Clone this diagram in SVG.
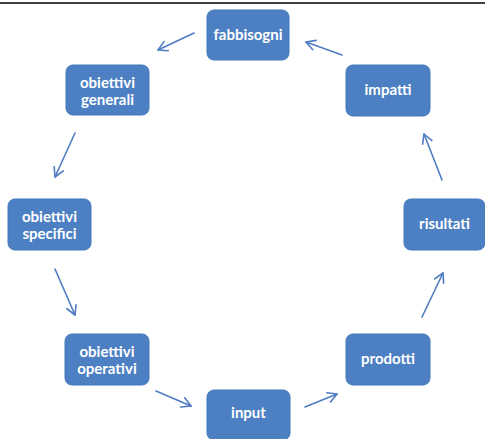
<svg xmlns="http://www.w3.org/2000/svg" width="485" height="439" viewBox="0 0 485 439">
  <defs>
    <marker id="ah" markerWidth="12" markerHeight="12" refX="10" refY="6" orient="auto" markerUnits="userSpaceOnUse">
      <path d="M1,1 L10,6 L1,11" fill="none" stroke="#4f7cc4" stroke-width="1.6" stroke-linecap="round" stroke-linejoin="round"/>
    </marker>
  </defs>
  <style>
    .box { fill: #4c80c3; stroke: #4377bb; stroke-width: 1; }
    .lbl { fill: #ffffff; font-family: Lato, "Open Sans", "Liberation Sans", sans-serif; font-weight: bold; font-size: 15px; text-anchor: middle; }
    .arr { fill: none; stroke: #4f7cc4; stroke-width: 1.6; stroke-linecap: round; marker-end: url(#ah); }
  </style>
  <rect x="0" y="0" width="485" height="439" fill="#ffffff"/>
  <line x1="0" y1="3" x2="485" y2="3" stroke="#000000" stroke-width="1.5"/>

  <g id="connectors">
    <line class="arr" x1="194" y1="33" x2="158" y2="50"/>
    <line class="arr" x1="342" y1="55" x2="306" y2="42"/>
    <line class="arr" x1="75" y1="133" x2="55" y2="177"/>
    <line class="arr" x1="55" y1="269" x2="75" y2="315"/>
    <line class="arr" x1="156" y1="391" x2="191" y2="406"/>
    <line class="arr" x1="305" y1="407" x2="337" y2="394"/>
    <line class="arr" x1="422" y1="317" x2="443" y2="273"/>
    <line class="arr" x1="442" y1="180" x2="424" y2="134"/>
  </g>

  <g id="fabbisogni">
    <rect class="box" x="207" y="10" width="82" height="50" rx="7"/>
    <text class="lbl" x="248" y="40">fabbisogni</text>
  </g>
  <g id="obiettivi-generali">
    <rect class="box" x="66" y="65" width="83" height="50" rx="7"/>
    <text class="lbl" x="107.5" y="88">obiettivi</text>
    <text class="lbl" x="107.5" y="105">generali</text>
  </g>
  <g id="obiettivi-specifici">
    <rect class="box" x="8" y="199" width="83" height="51" rx="7"/>
    <text class="lbl" x="49.5" y="222">obiettivi</text>
    <text class="lbl" x="49.5" y="239">specifici</text>
  </g>
  <g id="obiettivi-operativi">
    <rect class="box" x="65" y="334" width="84" height="51" rx="7"/>
    <text class="lbl" x="107" y="357">obiettivi</text>
    <text class="lbl" x="107" y="374">operativi</text>
  </g>
  <g id="input">
    <rect class="box" x="207" y="390" width="83" height="50" rx="7"/>
    <text class="lbl" x="248.5" y="418">input</text>
  </g>
  <g id="prodotti">
    <rect class="box" x="346" y="334" width="84" height="51" rx="7"/>
    <text class="lbl" x="388" y="364">prodotti</text>
  </g>
  <g id="risultati">
    <rect class="box" x="404" y="199" width="81" height="51" rx="7"/>
    <text class="lbl" x="444.5" y="229">risultati</text>
  </g>
  <g id="impatti">
    <rect class="box" x="346" y="65" width="84" height="51" rx="7"/>
    <text class="lbl" x="388" y="95">impatti</text>
  </g>
</svg>
